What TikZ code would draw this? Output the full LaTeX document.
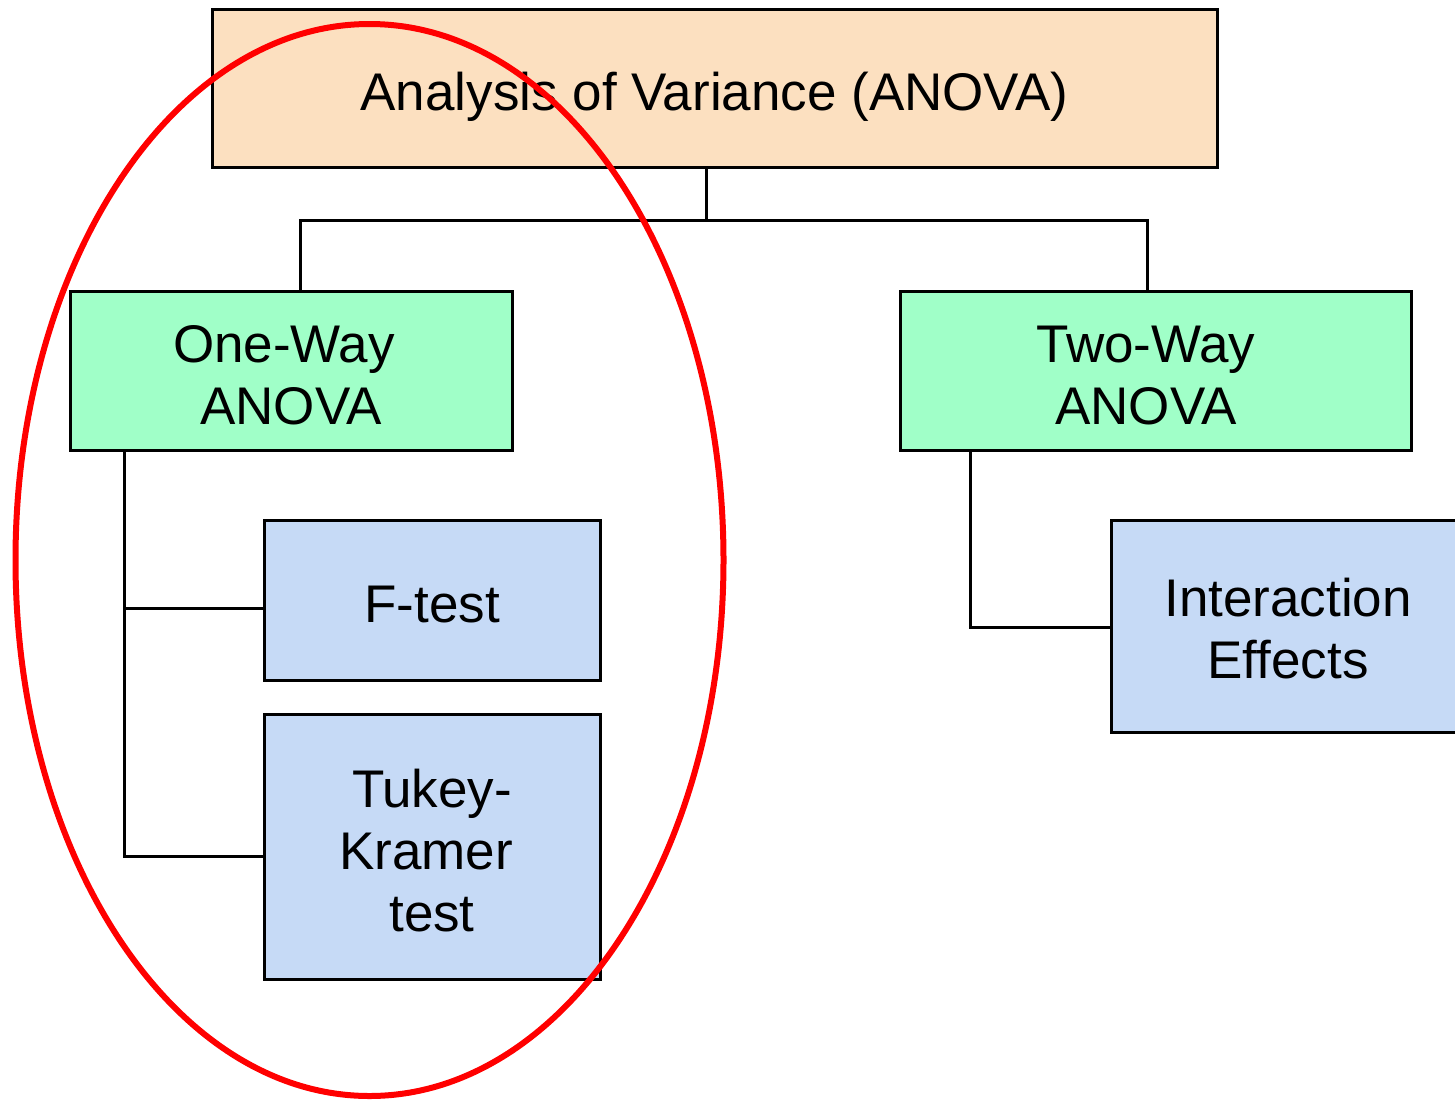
\documentclass[tikz,border=0pt]{standalone}
\usepackage{fontspec}
\setmainfont{Liberation Sans}
\newcommand\dnstrut[1]{\rule{0pt}{#1}}
\begin{document}
\begin{tikzpicture}[x=1pt,y=-1pt,
  box/.style={draw=black,line width=3pt,inner sep=0pt,outer sep=0pt,align=center,
    font=\fontsize{53}{62}\selectfont},
  conn/.style={draw=black,line width=3pt},
  ring/.style={draw=red,line width=6pt}]
\definecolor{peach}{RGB}{252,224,192}
\definecolor{mint}{RGB}{160,255,200}
\definecolor{lblue}{RGB}{198,218,246}
\clip (0,0) rectangle (1455,1101);
\fill[white] (0,0) rectangle (1455,1101);
% boxes
\node[box,fill=peach,minimum width=1005pt,minimum height=158pt] (top) at (714.5,88) {\dnstrut{55pt}Analysis of Variance (ANOVA)};
\node[box,fill=mint,minimum width=442pt,minimum height=159pt] (one) at (291,370.5) {\dnstrut{47pt}One-Way\kern14pt\\ANOVA};
\node[box,fill=mint,minimum width=511pt,minimum height=159pt] (two) at (1155.5,370.5) {\dnstrut{47pt}Two-Way\kern19pt\\ANOVA\kern19pt};
\node[box,fill=lblue,minimum width=336pt,minimum height=160pt] (ftest) at (432,600) {\dnstrut{46pt}F-test};
\node[box,fill=lblue,minimum width=336pt,minimum height=265pt] (tukey) at (432,846.5) {\dnstrut{47pt}Tukey-\\Kramer\kern12pt\\test};
\node[box,fill=lblue,minimum width=354pt,minimum height=212pt] (inter) at (1288,626) {\dnstrut{44pt}Interaction\\Effects};
% connectors
\coordinate (j) at (706,220);
\coordinate (jl) at (300,220);
\coordinate (jr) at (1147,220);
\draw[conn] (top.south -| j) -- (j);
\draw[conn] (jl |- one.north) -- (jl) -- (jr) -- (jr |- two.north);
\coordinate (f1) at (124,608);
\coordinate (t1) at (124,856);
\draw[conn] (t1 |- one.south) -- (t1) -- (t1 -| tukey.west);
\draw[conn] (f1) -- (f1 -| ftest.west);
\coordinate (i1) at (970,627);
\draw[conn] (i1 |- two.south) -- (i1) -- (i1 -| inter.west);
% red ellipse
\draw[ring] (369.5,560) ellipse [x radius=354pt, y radius=536pt];
\end{tikzpicture}
\end{document}
